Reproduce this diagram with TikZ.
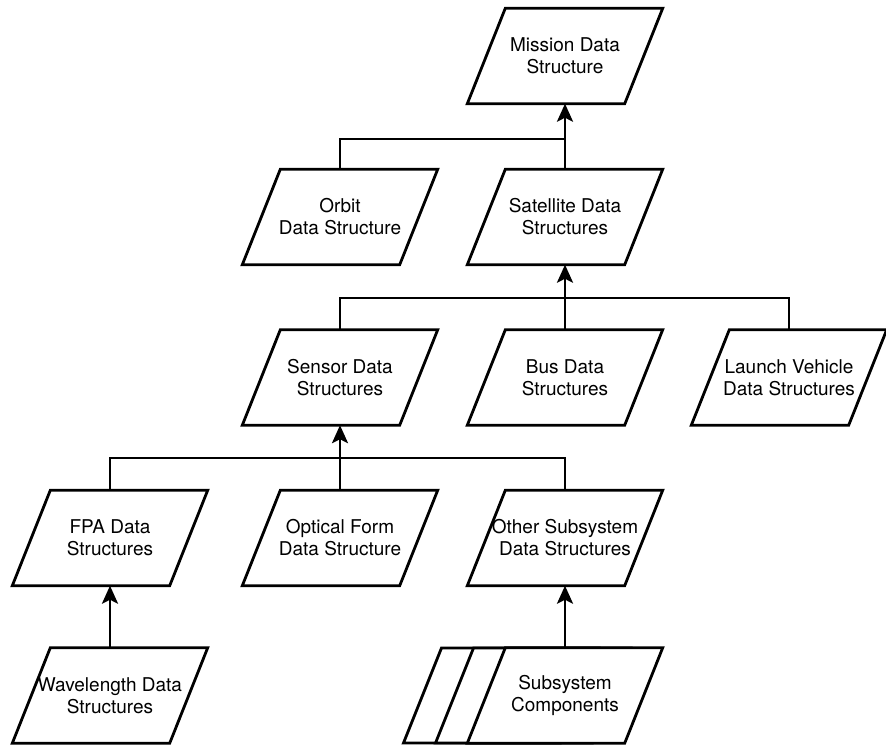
\documentclass[tikz,border=0pt]{standalone}
\usepackage{fontspec}
\setmainfont{TeX Gyre Heros}
\usetikzlibrary{arrows.meta}

% slant of the parallelogram sides (half of the horizontal offset)
\newcommand\slantoff{19pt}

\tikzset{
  pgram/.style={minimum width=157pt, minimum height=95pt, inner sep=0pt,
    align=center, font=\fontsize{19}{22}\selectfont},
  boxline/.style={line width=2.8pt, line join=miter, fill=white},
  link/.style={line width=2.8pt},
  uparrow/.style={line width=2.8pt, -{Stealth[length=18pt,width=16pt,inset=4pt]}},
}

% parallelogram data box: name, position, text
\newcommand\pgbox[3]{%
  \node[pgram] (#1) at (#2) {};
  \draw[boxline] ([xshift=\slantoff]#1.north west) -- ([xshift=\slantoff]#1.north east)
    -- ([xshift=-\slantoff]#1.south east) -- ([xshift=-\slantoff]#1.south west) -- cycle;
  \node[pgram] at (#1.center) {#3};
}

\begin{document}
\begin{tikzpicture}[x=1pt,y=1pt]
\useasboundingbox (0,0) rectangle (886,-746);

% top level
\pgbox{mission}{565,-56}{Mission Data\\Structure}

% second level
\pgbox{orbit}{340,-217}{Orbit\\Data Structure}
\pgbox{satellite}{565,-217}{Satellite Data\\Structures}

% third level
\pgbox{sensor}{340,-377.5}{Sensor Data\\Structures}
\pgbox{bus}{565,-377.5}{Bus Data\\Structures}
\pgbox{launch}{789,-377.5}{Launch Vehicle\\Data Structures}

% fourth level
\pgbox{fpa}{110,-538}{FPA Data\\Structures}
\pgbox{optical}{340,-538}{Optical Form\\Data Structure}
\pgbox{other}{565,-538}{Other Subsystem\\Data Structures}

% bottom level
\pgbox{wavelength}{110,-695.5}{Wavelength Data\\Structures}

% stacked subsystem components: two boxes behind the front one
\foreach \dx in {-64,-32}{
  \draw[boxline] (565+\dx+19-78.5,-648) -- (565+\dx+19+78.5,-648)
    -- (565+\dx-19+78.5,-743) -- (565+\dx-19-78.5,-743) -- cycle;
}
\pgbox{subsys}{565,-695.5}{Subsystem\\Components}

% junction points of the tree lines
\coordinate (j1) at (565,-139);
\coordinate (j2) at (565,-298);
\coordinate (j3) at (340,-458);

% connectors
\draw[uparrow] (satellite.north) -- (mission.south);
\draw[link] (orbit.north) |- (j1);

\draw[uparrow] (bus.north) -- (satellite.south);
\draw[link] (sensor.north) |- (j2);
\draw[link] (launch.north) |- (j2);

\draw[uparrow] (optical.north) -- (sensor.south);
\draw[link] (fpa.north) |- (j3);
\draw[link] (other.north) |- (j3);

\draw[uparrow] (wavelength.north) -- (fpa.south);
\draw[uparrow] (subsys.north) -- (other.south);
\end{tikzpicture}
\end{document}
